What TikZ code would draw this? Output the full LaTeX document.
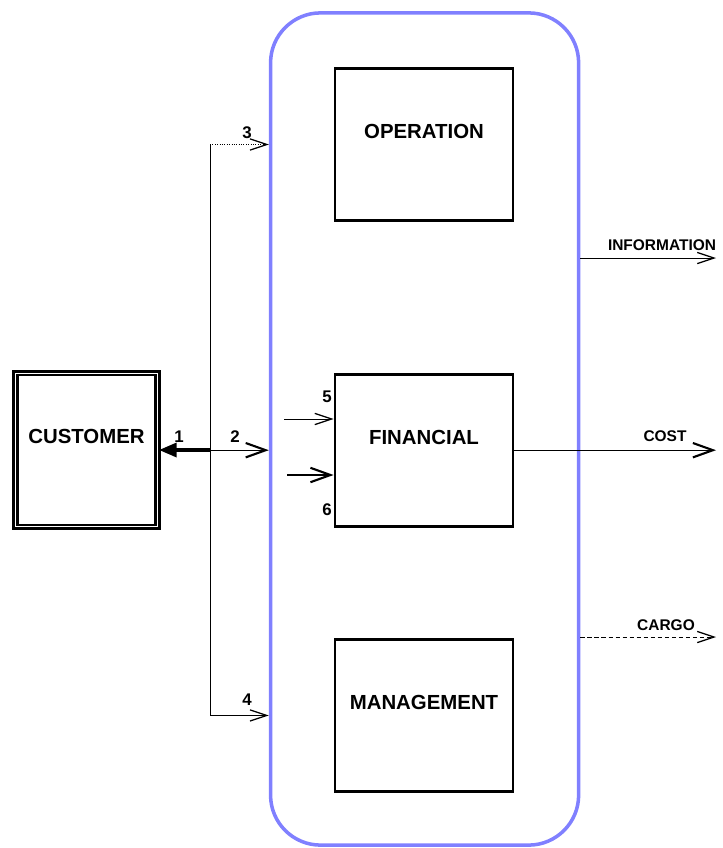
\documentclass[tikz,border=0pt]{standalone}
\usepackage{fontspec}
\setmainfont{Liberation Sans}
\usetikzlibrary{arrows.meta,positioning}
\definecolor{frameblue}{RGB}{128,128,255}
\tikzstyle{frame}=[draw=frameblue, line width=2.5pt, rounded corners=1.25cm, minimum width=7.7cm, minimum height=20.8cm, inner sep=0]
\tikzstyle{box}=[draw, line width=2pt, minimum width=4.45cm, minimum height=3.8cm, text depth=18pt, inner sep=0, font=\fontsize{14.5}{17}\selectfont\bfseries]
\tikzstyle{custbox}=[draw, double, line width=1.6pt, double distance=1.1pt, minimum width=3.55cm, minimum height=3.83cm, text depth=20pt, inner sep=0, font=\fontsize{14.5}{17}\selectfont\bfseries]
\tikzstyle{num}=[inner sep=0, font=\fontsize{12}{14}\selectfont\bfseries]
\tikzstyle{tag}=[inner sep=0, font=\fontsize{11}{13}\selectfont\bfseries]
\tikzstyle{flow}=[line width=0.7pt, -{Straight Barb[length=4.2mm,width=2.8mm,line width=0.9pt]}]
\tikzstyle{bigflow}=[line width=0.9pt, -{Straight Barb[length=5mm,width=3.6mm,line width=1.5pt]}]

\begin{document}
\begin{tikzpicture}[x=0.025cm,y=-0.025cm]
                    \useasboundingbox (0,0) rectangle (723,848);

                    \node [frame] (fr) at (424.6,429) {};
                    \node [box] (op) at (424,144.5) {OPERATION};
                    \node [box] (fin) [below=3.77cm of op] {FINANCIAL};
                    \node [box] (man) [below=2.76cm of fin] {MANAGEMENT};
                    \node [custbox] (cust) at (86.5,450) {CUSTOMER};

                    \coordinate (sp) at (210,0);
                    \coordinate (f5) at (284,419);
                    \coordinate (f6) at (287,475);
                    \coordinate (info) at (716,258);
                    \coordinate (cost) at (716,0);
                    \coordinate (cargo) at (716,637);

                    \node [num] (n1) at (179,437) {1};
                    \node [num] (n2) at (235,437) {2};
                    \node [num] (n3) at (247,133) {3};
                    \node [num] (n4) at (247,700) {4};
                    \node [num] (n5) at (327,397) {5};
                    \node [num] (n6) at (327,510) {6};
                    \node [tag] (tinfo) at (662,245) {INFORMATION};
                    \node [tag] (tcost) at (665,436) {COST};
                    \node [tag] (tcargo) at (666,625) {CARGO};

                    \draw [line width=0.7pt] (sp |- op) -- (sp |- man);
                    \draw [line width=3pt, -{Triangle[length=4.5mm,width=3.4mm]}] (sp |- cust.east) -- (cust.east);
                    \draw [flow, densely dotted, line width=1pt] (sp |- op) -- (op -| fr.west);
                    \draw [bigflow] (sp |- fin) -- (fin -| fr.west);
                    \draw [flow] (sp |- man) -- (man -| fr.west);
                    \draw [flow] (f5) -- (f5 -| fin.west);
                    \draw [bigflow, line width=2pt] (f6) -- (f6 -| fin.west);
                    \draw [flow] (info -| fr.east) -- (info);
                    \draw [bigflow] (fin.east) -- (fin.east -| cost);
                    \draw [flow, dash pattern=on 3pt off 2pt] (cargo -| fr.east) -- (cargo);
                \end{tikzpicture}
\end{document}
